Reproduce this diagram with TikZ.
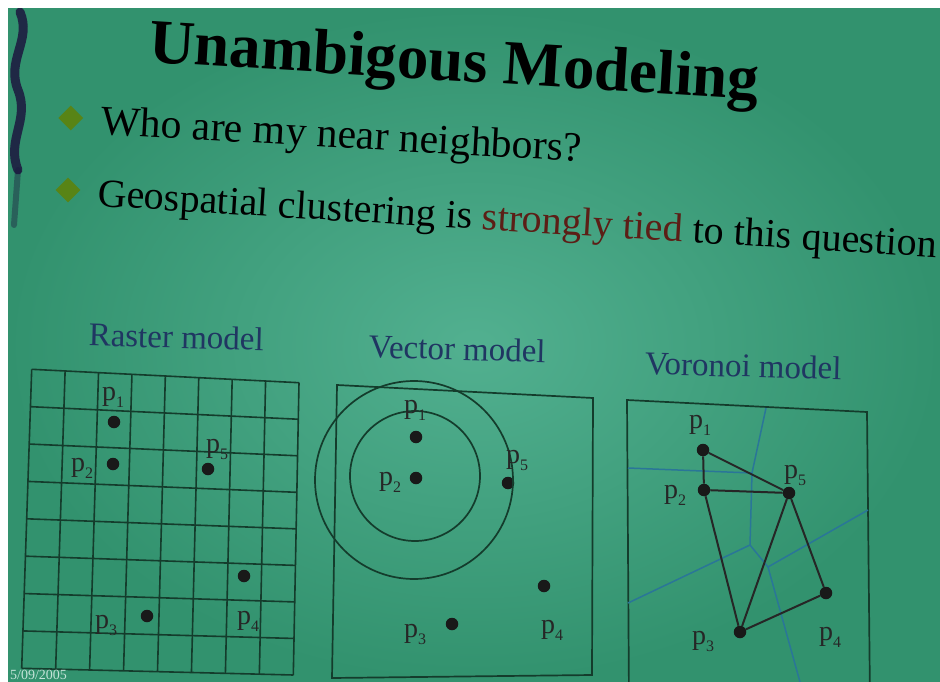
\documentclass[tikz,border=0pt]{standalone}
\usepackage{fontspec}
\setmainfont{Liberation Serif}
\usetikzlibrary{calc,shapes.geometric}
\definecolor{slidelight}{RGB}{82,176,144}
\definecolor{slidedark}{RGB}{50,146,110}
\definecolor{inkgreen}{RGB}{20,60,44}
\definecolor{vorblue}{RGB}{42,118,152}
\definecolor{bulletgreen}{RGB}{88,132,22}
\definecolor{captionblue}{RGB}{32,54,98}
\definecolor{redink}{RGB}{92,30,22}
\definecolor{scroll}{RGB}{28,22,62}
\tikzset{
  gridline/.style={draw=inkgreen, line width=1.6pt},
  frame/.style={draw=inkgreen, line width=1.7pt},
  dot/.style={circle, fill=black!90, inner sep=0pt, minimum size=12.5pt},
  plabel/.style={font=\fontsize{28}{30}\selectfont, text=black!85, inner sep=0pt},
  caption/.style={font=\fontsize{33}{36}\selectfont, text=captionblue, anchor=base, rotate=-1.5},
  bullet/.style={diamond, fill=bulletgreen, inner sep=0pt, minimum size=25pt},
  edge/.style={draw=black!85, line width=2pt},
  cell/.style={draw=vorblue, line width=1.5pt},
}
\newcommand{\plab}[1]{p\raisebox{-0.25em}{\fontsize{16}{16}\selectfont #1}}

\begin{document}
\begin{tikzpicture}[x=1pt, y=-1pt]
\useasboundingbox (0,0) rectangle (940,682);
\fill[white] (0,0) rectangle (940,682);
\begin{scope}
\clip (8,9) rectangle (940,682);
\shade[inner color=slidelight, outer color=slidedark] (8,9) rectangle (940,682);
% scroll ornament on the left
\draw[scroll, line width=9pt, opacity=.85, line cap=round]
  (20,12) .. controls (32,40) and (6,60) .. (18,90) .. controls (30,120) and (6,140) .. (18,170);
\draw[scroll, line width=6pt, opacity=.4, line cap=round] (18,170) -- (14,225);

% title and bullets
\node[font=\bfseries\fontsize{63}{70}\selectfont, anchor=base west, rotate=-3.5, inner sep=0pt] (title) at (148,62) {Unambigous Modeling};
\node[bullet] (b1) at (70.7,118) {};
\node[font=\fontsize{41.7}{46}\selectfont, anchor=base west, rotate=-3.3, inner sep=0pt] (q1) at (100,134) {Who are my near neighbors?};
\node[bullet] (b2) at (68,190) {};
\node[font=\fontsize{40}{46}\selectfont, anchor=base west, rotate=-3.5, inner sep=0pt] (q2) at (97,206)
  {Geospatial clustering is \textcolor{redink}{strongly tied} to this question};

% captions
\node[caption] (rcap) at (176,348) {Raster model};
\node[caption] (vcap) at (457,360) {Vector model};
\node[caption] (wcap) at (743,377) {Voronoi model};

% raster model
\coordinate (rTL) at (31.7,369.3);
\coordinate (rTR) at (299,382.7);
\coordinate (rBL) at (21.7,668.3);
\coordinate (rBR) at (293.3,675);
\foreach \i in {0,...,8} {
  \draw[gridline] ($(rTL)!\i/8!(rTR)$) -- ($(rBL)!\i/8!(rBR)$);
  \draw[gridline] ($(rTL)!\i/8!(rBL)$) -- ($(rTR)!\i/8!(rBR)$);
}
\node[dot] (r1) at (114,422) {};
\node[dot] (r2) at (113,464) {};
\node[dot] (r3) at (147,616) {};
\node[dot] (r4) at (244,576) {};
\node[dot] (r5) at (208,469) {};
\node[plabel] (rl1) at (113,397) {\plab{1}};
\node[plabel] (rl2) at (82,468) {\plab{2}};
\node[plabel] (rl3) at (106,625) {\plab{3}};
\node[plabel] (rl4) at (248,621) {\plab{4}};
\node[plabel] (rl5) at (217,449) {\plab{5}};

% vector model
\draw[frame] (337,385) -- (593,398) -- (592,675) -- (332,678) -- cycle;
\node[dot] (v1) at (416,437) {};
\node[dot] (v2) at (416,478) {};
\node[dot] (v3) at (452,624) {};
\node[dot] (v4) at (544,586) {};
\node[dot] (v5) at (508,483) {};
\draw[frame] (415,476) circle (65);
\draw[frame] (414,480) circle (99);
\node[plabel] (vl1) at (415,410) {\plab{1}};
\node[plabel] (vl2) at (390,482) {\plab{2}};
\node[plabel] (vl3) at (415,634) {\plab{3}};
\node[plabel] (vl4) at (552,630) {\plab{4}};
\node[plabel] (vl5) at (517,460) {\plab{5}};

% voronoi model
\draw[frame] (629,700) -- (627,400) -- (867,412) -- (870,700);
\coordinate (c0) at (752,473);
\coordinate (c1) at (750,545);
\coordinate (c2) at (768,567);
\coordinate (ctop) at (766,408);
\coordinate (cleft1) at (628,468);
\coordinate (cleft2) at (628,603);
\coordinate (cright) at (868,510);
\coordinate (cbot) at (800,682);
\draw[cell] (ctop) -- (c0) -- (c1) -- (c2) -- (cbot);
\draw[cell] (cleft1) -- (c0);
\draw[cell] (cleft2) -- (c1);
\draw[cell] (c2) -- (cright);
\node[dot] (w1) at (703,450) {};
\node[dot] (w2) at (704,490) {};
\node[dot] (w3) at (740,632) {};
\node[dot] (w4) at (826,593) {};
\node[dot] (w5) at (789,493) {};
\draw[edge] (w1) -- (w2);
\draw[edge] (w1) -- (w5);
\draw[edge] (w2) -- (w5);
\draw[edge] (w2) -- (w3);
\draw[edge] (w3) -- (w5);
\draw[edge] (w5) -- (w4);
\draw[edge] (w3) -- (w4);
\node[plabel] (wl1) at (700,425) {\plab{1}};
\node[plabel] (wl2) at (675,495) {\plab{2}};
\node[plabel] (wl3) at (703,641) {\plab{3}};
\node[plabel] (wl4) at (830,637) {\plab{4}};
\node[plabel] (wl5) at (795,475) {\plab{5}};

% date
\node[font=\fontsize{14}{15}\selectfont, text=white!65!slidelight, anchor=south west, inner sep=0pt] (date) at (10,680) {5/09/2005};
\end{scope}
\end{tikzpicture}
\end{document}
